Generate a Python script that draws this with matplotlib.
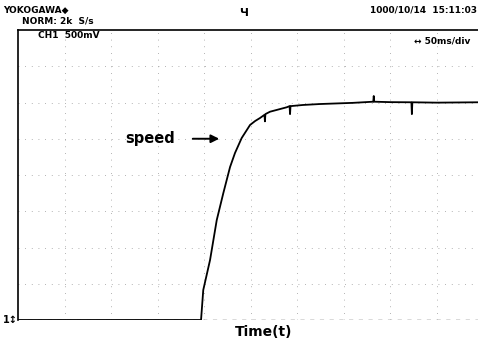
import matplotlib
matplotlib.use("Agg")
import matplotlib.pyplot as plt

# Time in ms (50 ms/div), voltage in V (500 mV/div)
time_ms = [0, 196.8, 199.2, 206.5, 213.7, 220.8, 228.0, 233.3, 240.5, 249.5,
           255.0, 260.2, 265.0, 265.5, 266.0, 271.0, 288.9, 292.0, 292.5, 293.0,
           306.5, 324.7, 360.0, 382.0, 382.5, 383.0, 400.0, 423.0, 423.5, 424.0,
           450.0, 494.6]
volts = [0, 0, 0.414, 0.828, 1.379, 1.752, 2.110, 2.303, 2.510, 2.690,
         2.745, 2.786, 2.83, 2.74, 2.84, 2.873, 2.934, 2.95, 2.84, 2.95,
         2.966, 2.979, 2.995, 3.011, 3.09, 3.011, 3.005, 3.003, 2.84, 3.003,
         2.998, 3.003]

x_grid_ms = [50 * i for i in range(1, 10)]
y_grid_v = [0.5 * i for i in range(0, 8)]

fig = plt.figure(figsize=(4.78, 3.41), dpi=100)
ax = fig.add_axes([18 / 478, 21 / 341, 460 / 478, 290 / 341])
ax.set_xlim(0, 494.6)
ax.set_ylim(0, 4.0)

for xv in x_grid_ms:
    ax.axvline(xv, color="#9a9a9a", lw=0.6, ls=(0, (1, 7)), zorder=1)
for yv in y_grid_v:
    if yv == 0:
        ax.axhline(yv, color="#444444", lw=1.0, ls=(0, (3, 4)), zorder=1)
    else:
        ax.axhline(yv, color="#9a9a9a", lw=0.6, ls=(0, (1, 7)), zorder=1)

ax.plot(time_ms, volts, color="black", lw=1.3, zorder=3)

ax.set_xticks([])
ax.set_yticks([])
ax.spines["right"].set_visible(False)
ax.spines["bottom"].set_visible(False)
ax.spines["left"].set_linewidth(1.2)
ax.spines["top"].set_linewidth(1.2)

# speed annotation
ax.annotate("", xy=((222 - 18) / 46.5 * 50, 2.5), xytext=((190 - 18) / 46.5 * 50, 2.5),
            arrowprops=dict(arrowstyle="-|>", color="black", lw=1.4, mutation_scale=12))
ax.text((150 - 18) / 46.5 * 50, 2.5, "speed", ha="center", va="center",
        fontsize=10.5, fontweight="bold")

fs = 6.5
fig.text(3 / 478, 1 - 10 / 341, "YOKOGAWA\u25c6", fontsize=fs, fontweight="bold", va="center")
fig.text(22 / 478, 1 - 21 / 341, "NORM: 2k  S/s", fontsize=fs, fontweight="bold", va="center")
fig.text(38 / 478, 1 - 35 / 341, "CH1  500mV", fontsize=fs, fontweight="bold", va="center")
fig.text(477 / 478, 1 - 10 / 341, "1000/10/14  15:11:03", fontsize=fs, fontweight="bold",
         va="center", ha="right")
fig.text(470 / 478, 1 - 41 / 341, "\u2194 50ms/div", fontsize=fs, fontweight="bold",
         va="center", ha="right")
fig.text(244 / 478, 1 - 13 / 341, "\u0427", fontsize=8, fontweight="bold",
         va="center", ha="center")
fig.text(264 / 478, 1 - 332 / 341, "Time(t)", fontsize=10, fontweight="bold",
         va="center", ha="center")
fig.text(3 / 478, 1 - 320 / 341, "1\u2195", fontsize=7, fontweight="bold", va="center")

fig.savefig("out.png", dpi=100)
